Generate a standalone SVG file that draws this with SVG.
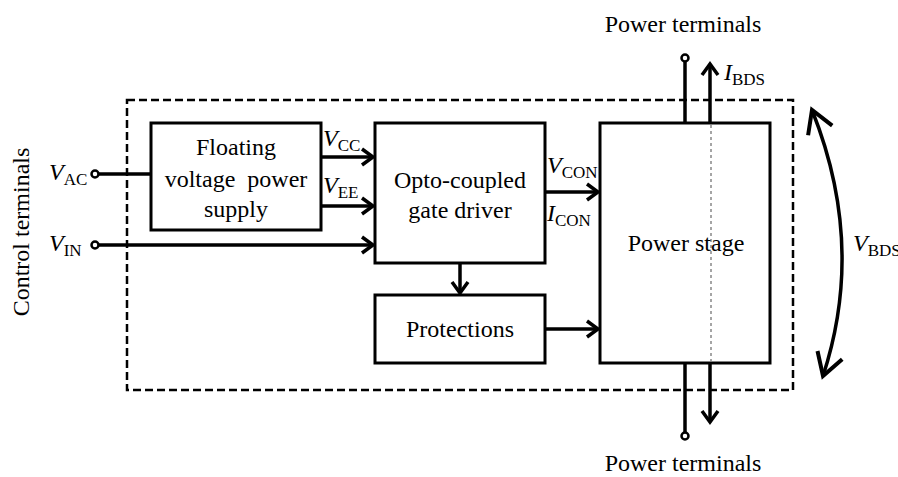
<svg xmlns="http://www.w3.org/2000/svg" width="898" height="477" viewBox="0 0 898 477">
<defs>
<style>
.box{fill:#fff;stroke:#000;stroke-width:3}
.ln{fill:none;stroke:#000;stroke-width:3.5}
.t{font-family:'Liberation Serif','DejaVu Serif','Times New Roman',serif;font-size:24px;fill:#000}
.v{font-style:italic}
.s{font-size:17px;font-style:normal}
</style>
<marker id="ah" markerUnits="userSpaceOnUse" markerWidth="20" markerHeight="20" viewBox="-14 -10 16 20" refX="0" refY="0" orient="auto-start-reverse">
<path d="M-11,-8 L0,0 L-11,8" fill="none" stroke="#000" stroke-width="3.5"/>
</marker>
<marker id="ahb" markerUnits="userSpaceOnUse" markerWidth="30" markerHeight="34" viewBox="-26 -16 30 32" refX="0" refY="0" orient="auto-start-reverse">
<path d="M-22,-13 L0,0 L-22,13" fill="none" stroke="#000" stroke-width="4"/>
</marker>
</defs>
<rect width="898" height="477" fill="#fff"/>
<g id="enclosure">
<rect x="127" y="100" width="666" height="290" fill="none" stroke="#000" stroke-width="2.5" stroke-dasharray="8,4"/>
</g>
<g id="connectors">
<line class="ln" x1="98" y1="174" x2="151" y2="174"/>
<line class="ln" x1="98" y1="245" x2="373" y2="245" marker-end="url(#ah)"/>
<line class="ln" x1="321" y1="157" x2="373" y2="157" marker-end="url(#ah)"/>
<line class="ln" x1="321" y1="206" x2="373" y2="206" marker-end="url(#ah)"/>
<line class="ln" x1="545" y1="192" x2="598" y2="192" marker-end="url(#ah)"/>
<line class="ln" x1="545" y1="329" x2="598" y2="329" marker-end="url(#ah)"/>
<line class="ln" x1="460" y1="263" x2="460" y2="293" marker-end="url(#ah)"/>
<line class="ln" x1="685" y1="123" x2="685" y2="61"/>
<line class="ln" x1="710" y1="123" x2="710" y2="64" marker-end="url(#ah)"/>
<line class="ln" x1="685" y1="363" x2="685" y2="432"/>
<line class="ln" x1="710" y1="363" x2="710" y2="422" marker-end="url(#ah)"/>
<path class="ln" d="M812,110 Q866,245 823,376" marker-start="url(#ahb)" marker-end="url(#ahb)"/>
<circle cx="95" cy="174" r="3.5" fill="#fff" stroke="#000" stroke-width="2.5"/>
<circle cx="95" cy="245" r="3.5" fill="#fff" stroke="#000" stroke-width="2.5"/>
<circle cx="685" cy="58" r="3.5" fill="#fff" stroke="#000" stroke-width="2.5"/>
<circle cx="685" cy="436" r="3.5" fill="#fff" stroke="#000" stroke-width="2.5"/>
</g>
<g id="floating-supply">
<rect class="box" x="151" y="123" width="170" height="107"/>
<text class="t" text-anchor="middle" x="236" y="155">Floating</text>
<text class="t" text-anchor="middle" x="236" y="187" xml:space="preserve">voltage  power</text>
<text class="t" text-anchor="middle" x="236" y="217">supply</text>
</g>
<g id="gate-driver">
<rect class="box" x="375" y="123" width="170" height="140"/>
<text class="t" text-anchor="middle" x="460" y="188">Opto-coupled</text>
<text class="t" text-anchor="middle" x="460" y="218">gate driver</text>
</g>
<g id="protections">
<rect class="box" x="375" y="295" width="170" height="68"/>
<text class="t" text-anchor="middle" x="460" y="337">Protections</text>
</g>
<g id="power-stage">
<rect class="box" x="600" y="123" width="170" height="240"/>
<line x1="711" y1="125" x2="711" y2="361" stroke="#888" stroke-width="1.5" stroke-dasharray="3,3"/>
<text class="t" text-anchor="middle" x="686" y="251">Power stage</text>
</g>
<g id="labels">
<text class="t" x="49" y="180"><tspan class="v">V</tspan><tspan class="s" dy="5">AC</tspan></text>
<text class="t" x="49" y="251"><tspan class="v">V</tspan><tspan class="s" dy="5">IN</tspan></text>
<text class="t" x="323" y="146"><tspan class="v">V</tspan><tspan class="s" dy="5">CC</tspan></text>
<text class="t" x="323" y="193"><tspan class="v">V</tspan><tspan class="s" dy="5">EE</tspan></text>
<text class="t" x="547" y="173"><tspan class="v">V</tspan><tspan class="s" dy="5">CON</tspan></text>
<text class="t" x="547" y="221"><tspan class="v">I</tspan><tspan class="s" dy="5">CON</tspan></text>
<text class="t" x="724" y="80"><tspan class="v">I</tspan><tspan class="s" dy="5">BDS</tspan></text>
<text class="t" x="853" y="251"><tspan class="v">V</tspan><tspan class="s" dy="5">BDS</tspan></text>
<text class="t" text-anchor="middle" x="683" y="32">Power terminals</text>
<text class="t" text-anchor="middle" x="683" y="471">Power terminals</text>
<text class="t" text-anchor="middle" transform="translate(29,232) rotate(-90)">Control terminals</text>
</g>
</svg>
